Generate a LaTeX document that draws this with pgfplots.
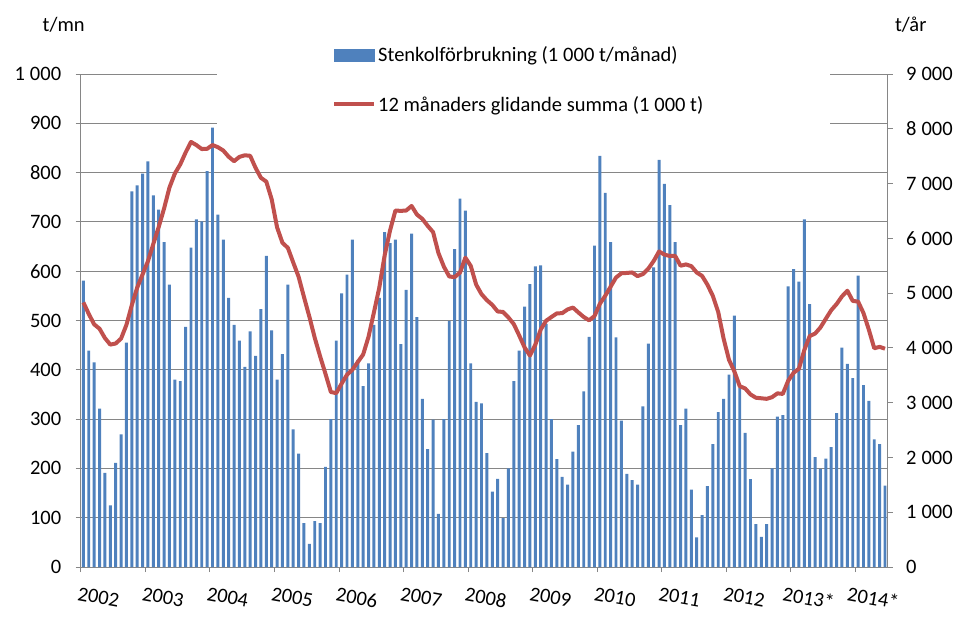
\documentclass[border=0pt]{standalone}
\usepackage{fontspec}
\setmainfont{Carlito}
\usepackage{pgfplots}
\usepackage{pgfplotstable}
\pgfplotsset{compat=1.18}
\definecolor{barblue}{HTML}{4F81BD}
\definecolor{linered}{HTML}{C0504D}
\definecolor{gridgray}{HTML}{868686}
\newcommand{\ts}{\hspace{5bp}}

\pgfplotstableread{
idx cons roll
0 581 4830
1 439 4620
2 415 4430
3 321 4350
4 191 4180
5 125 4060
6 211 4080
7 269 4170
8 455 4420
9 762 4780
10 774 5100
11 798 5341
12 823 5583
13 754 5898
14 725 6208
15 659 6546
16 573 6928
17 380 7183
18 377 7349
19 487 7567
20 648 7760
21 705 7703
22 701 7630
23 803 7635
24 891 7703
25 715 7664
26 664 7603
27 546 7490
28 491 7408
29 459 7487
30 406 7516
31 478 7507
32 428 7287
33 523 7105
34 631 7035
35 480 6712
36 380 6201
37 432 5918
38 573 5827
39 279 5560
40 230 5299
41 89 4929
42 47 4570
43 93 4185
44 89 3846
45 203 3526
46 300 3195
47 459 3174
48 555 3349
49 593 3510
50 664 3601
51 420 3742
52 367 3879
53 413 4203
54 491 4647
55 546 5100
56 679 5690
57 657 6144
58 664 6508
59 452 6501
60 562 6508
61 676 6591
62 507 6434
63 341 6355
64 239 6227
65 299 6113
66 108 5730
67 300 5484
68 499 5304
69 645 5292
70 747 5375
71 723 5646
72 413 5497
73 335 5156
74 332 4981
75 231 4871
76 153 4785
77 179 4665
78 99 4656
79 200 4556
80 377 4434
81 439 4228
82 528 4009
83 574 3860
84 610 4057
85 612 4334
86 493 4495
87 300 4564
88 219 4630
89 183 4634
90 167 4702
91 234 4736
92 288 4647
93 356 4564
94 467 4503
95 652 4581
96 834 4805
97 759 4952
98 659 5118
99 466 5284
100 297 5362
101 189 5368
102 176 5377
103 167 5310
104 326 5348
105 453 5445
106 608 5586
107 826 5760
108 777 5703
109 734 5678
110 659 5678
111 288 5500
112 321 5524
113 157 5492
114 60 5376
115 105 5314
116 164 5152
117 249 4948
118 314 4654
119 341 4169
120 390 3782
121 510 3570
122 364 3300
123 272 3260
124 178 3150
125 87 3090
126 61 3080
127 87 3070
128 200 3100
129 305 3170
130 308 3160
131 569 3400
132 604 3545
133 579 3620
134 705 3960
135 533 4216
136 223 4261
137 199 4373
138 220 4532
139 243 4688
140 312 4800
141 445 4940
142 412 5044
143 383 4858
144 591 4845
145 369 4635
146 337 4330
147 259 3993
148 249 4019
149 165 3985
}\data

\begin{document}
\begin{tikzpicture}[font=\fontsize{20.5bp}{24bp}\selectfont]
\path[use as bounding box] (-80.7bp,-50bp) rectangle (877.3bp,567bp);
\begin{axis}[
  at={(0,0)}, anchor=south west,
  scale only axis, width=807bp, height=493bp,
  clip=false,
  xmin=-0.5, xmax=149.5, ymin=0, ymax=1000,
  axis x line*=bottom, axis y line*=left,
  axis line style={gridgray, line width=0.8bp, -},
  xtick={-0.5,11.5,23.5,35.5,47.5,59.5,71.5,83.5,95.5,107.5,119.5,131.5,143.5},
  xticklabels={},
  extra x ticks={5.5,17.5,29.5,41.5,53.5,65.5,77.5,89.5,101.5,113.5,125.5,137.5,149.5},
  extra x tick labels={2002,2003,2004,2005,2006,2007,2008,2009,2010,2011,2012,2013*,2014*},
  extra x tick style={major tick length=0pt, grid=none,
    tick label style={rotate=-10, anchor=north, xshift=-9bp, yshift=-22bp}},
  ytick={0,100,...,1000},
  yticklabels={0,100,200,300,400,500,600,700,800,900,1\ts000},
  ymajorgrids, grid style={gridgray, line width=0.8bp},
  tick align=outside, major tick length=5bp,
  tick style={gridgray, line width=0.8bp},
  yticklabel style={anchor=east, xshift=-11bp},
]
\fill[white] (axis cs:24.8,846) rectangle (axis cs:138.8,1010);
\addplot[ybar, bar width=0.55, fill=barblue, draw=none] table[x=idx, y=cons] {\data};
\end{axis}
\begin{axis}[
  at={(0,0)}, anchor=south west,
  scale only axis, width=807bp, height=493bp,
  xmin=-0.5, xmax=149.5, ymin=0, ymax=9000,
  axis x line=none, axis y line*=right,
  axis line style={gridgray, line width=0.8bp, -},
  ytick={0,1000,...,9000},
  yticklabels={0,1\ts000,2\ts000,3\ts000,4\ts000,5\ts000,6\ts000,7\ts000,8\ts000,9\ts000},
  tick align=outside, major tick length=5bp,
  tick style={gridgray, line width=0.8bp},
  yticklabel style={anchor=west, xshift=10bp},
  legend style={draw=none, fill=none, inner sep=0pt,
    at={(axis description cs:0.3114,1.06)}, anchor=north west,
    row sep=29bp, font=\fontsize{20.5bp}{24bp}\selectfont},
  legend cell align=left,
]
\addlegendimage{legend image code/.code={\fill[barblue] (0bp,-6bp) rectangle (40bp,6bp);}}
\addlegendentry{Stenkolförbrukning (1\ts000 t/månad)}
\addplot[linered, line width=4bp, line join=round, no markers,
  legend image code/.code={\draw[linered, line width=4bp] (0bp,0bp) -- (40bp,0bp);}]
  table[x=idx, y=roll] {\data};
\addlegendentry{12 månaders glidande summa (1\ts000 t)}
\end{axis}
\node at (-17bp,542bp) {t/mn};
\node at (830bp,542bp) {t/år};
\end{tikzpicture}
\end{document}
